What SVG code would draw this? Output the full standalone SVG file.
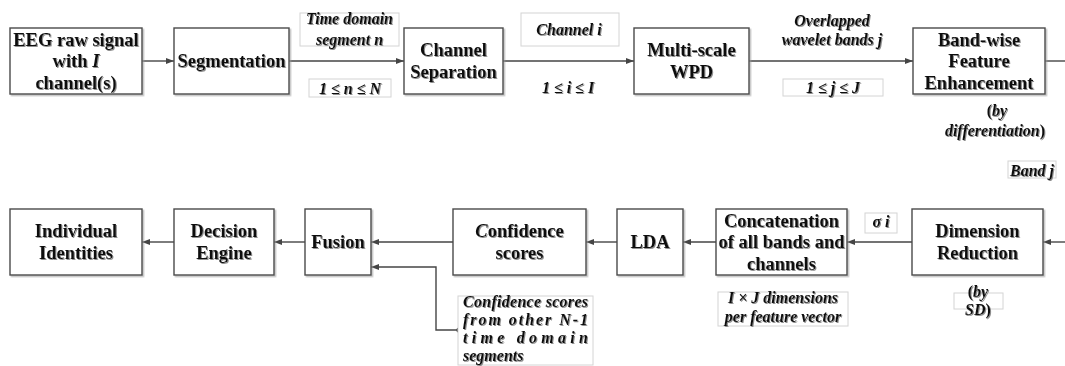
<svg xmlns="http://www.w3.org/2000/svg" width="1065" height="366" viewBox="0 0 1065 366">
  <defs>
    <filter id="txtShadow" x="-10%" y="-20%" width="120%" height="140%">
      <feDropShadow dx="1" dy="1" stdDeviation="0.6" flood-color="#7a7a7a" flood-opacity="0.85"/>
    </filter>
    <filter id="boxShadow" x="-5%" y="-5%" width="110%" height="115%">
      <feDropShadow dx="1.5" dy="1.5" stdDeviation="0.7" flood-color="#999" flood-opacity="0.6"/>
    </filter>
    <marker id="arrow" viewBox="0 0 8 6" refX="8" refY="3" markerWidth="8" markerHeight="6" markerUnits="userSpaceOnUse" orient="auto">
      <path d="M0,0 L8,3 L0,6 Z" fill="#454545"/>
    </marker>
  </defs>
  <style>
    .box { fill: #fff; stroke: #4a4a4a; stroke-width: 1.4; filter: url(#boxShadow); }
    .lbl { fill: #fff; stroke: #d4d4d4; stroke-width: 1; }
    .node { font-family: "Liberation Serif", "Times New Roman", serif; font-weight: bold; font-size: 18.5px; fill: #111; text-anchor: middle; filter: url(#txtShadow); }
    .note { font-family: "Liberation Serif", "Times New Roman", serif; font-weight: bold; font-style: italic; font-size: 16px; fill: #111; text-anchor: middle; filter: url(#txtShadow); }
    .up { font-style: normal; }
    .it { font-style: italic; }
    .wire { fill: none; stroke: #454545; stroke-width: 1.4; }
    .arr { marker-end: url(#arrow); }
  </style>
  <rect width="1065" height="366" fill="#fff"/>

  <!-- connectors -->
  <g id="connectors">
    <line class="wire arr" x1="142" y1="61" x2="174" y2="61"/>
    <line class="wire arr" x1="289" y1="61" x2="404" y2="61"/>
    <line class="wire arr" x1="503" y1="61" x2="634" y2="61"/>
    <line class="wire arr" x1="749" y1="61" x2="913" y2="61"/>
    <line class="wire" x1="1045" y1="61" x2="1065" y2="61"/>
    <line class="wire arr" x1="1065" y1="242" x2="1043" y2="242"/>
    <line class="wire arr" x1="912" y1="242" x2="847" y2="242"/>
    <line class="wire arr" x1="716" y1="242" x2="683" y2="242"/>
    <line class="wire arr" x1="617" y1="242" x2="586" y2="242"/>
    <line class="wire arr" x1="453" y1="242" x2="371" y2="242"/>
    <line class="wire arr" x1="305" y1="242" x2="274" y2="242"/>
    <line class="wire arr" x1="174" y1="242" x2="142" y2="242"/>
    <polyline class="wire arr" points="459,330 436,330 436,267 371,267"/>
    <circle cx="459" cy="330" r="2.6" fill="#454545"/>
  </g>

  <!-- edge labels -->
  <g id="labels">
    <rect class="lbl" x="300" y="13" width="99" height="33"/>
    <text class="note" x="349.5" y="24">Time domain</text>
    <text class="note" x="349.5" y="45">segment n</text>

    <rect class="lbl" x="309" y="79" width="82" height="18"/>
    <text class="note" x="350" y="93.5">1 ≤ n ≤ N</text>

    <rect class="lbl" x="521" y="13" width="98" height="33"/>
    <text class="note" x="569" y="35">Channel i</text>

    <text class="note" x="568" y="92.5">1 ≤ i ≤ I</text>

    <text class="note" x="832" y="25.5">Overlapped</text>
    <text class="note" x="832" y="45">wavelet bands j</text>

    <rect class="lbl" x="783" y="79" width="100" height="17"/>
    <text class="note" x="833" y="93">1 ≤ j ≤ J</text>

    <text class="note" x="997" y="115.5"><tspan class="up">(</tspan>by</text>
    <text class="note" x="995" y="135.5">differentiation<tspan class="up">)</tspan></text>

    <rect class="lbl" x="1008" y="161" width="48" height="17"/>
    <text class="note" x="1032" y="175.5">Band j</text>

    <rect class="lbl" x="865" y="213" width="32" height="20"/>
    <text class="note" x="881" y="227">σ i</text>

    <rect class="lbl" x="718" y="292" width="130" height="34"/>
    <text class="note" x="783" y="303">I × J dimensions</text>
    <text class="note" x="783" y="322">per feature vector</text>

    <rect class="lbl" x="954" y="293" width="49" height="16"/>
    <text class="note" x="978" y="297"><tspan class="up">(</tspan>by</text>
    <text class="note" x="978" y="315">SD<tspan class="up">)</tspan></text>

    <rect class="lbl" x="458" y="296" width="135" height="69"/>
    <text class="note" x="463" y="307" text-anchor="start" style="text-anchor:start" textLength="125" lengthAdjust="spacing">Confidence scores</text>
    <text class="note" x="463" y="325" style="text-anchor:start" textLength="125" lengthAdjust="spacing">from other N-1</text>
    <text class="note" x="463" y="343" style="text-anchor:start" textLength="125" lengthAdjust="spacing">time domain</text>
    <text class="note" x="463" y="361" style="text-anchor:start">segments</text>
  </g>

  <!-- top row -->
  <g id="eeg-raw">
    <rect class="box" x="10" y="28" width="132" height="66"/>
    <text class="node" x="76" y="45.5">EEG raw signal</text>
    <text class="node" x="76" y="67">with <tspan class="it">I</tspan></text>
    <text class="node" x="76" y="88.5">channel(s)</text>
  </g>
  <g id="segmentation">
    <rect class="box" x="174" y="28" width="115" height="66"/>
    <text class="node" x="231.5" y="67">Segmentation</text>
  </g>
  <g id="channel-separation">
    <rect class="box" x="404" y="28" width="99" height="66"/>
    <text class="node" x="453.5" y="56">Channel</text>
    <text class="node" x="453.5" y="77.5">Separation</text>
  </g>
  <g id="wpd">
    <rect class="box" x="634" y="28" width="115" height="66"/>
    <text class="node" x="691.5" y="56">Multi-scale</text>
    <text class="node" x="691.5" y="77.5">WPD</text>
  </g>
  <g id="band-enhancement">
    <rect class="box" x="913" y="28" width="132" height="66"/>
    <text class="node" x="979" y="45.5">Band-wise</text>
    <text class="node" x="979" y="67">Feature</text>
    <text class="node" x="979" y="88.5">Enhancement</text>
  </g>

  <!-- bottom row -->
  <g id="dimension-reduction">
    <rect class="box" x="912" y="209" width="131" height="66"/>
    <text class="node" x="977.5" y="237">Dimension</text>
    <text class="node" x="977.5" y="259">Reduction</text>
  </g>
  <g id="concatenation">
    <rect class="box" x="716" y="209" width="131" height="66"/>
    <text class="node" x="781.5" y="226.5">Concatenation</text>
    <text class="node" x="781.5" y="248">of all bands and</text>
    <text class="node" x="781.5" y="269.5">channels</text>
  </g>
  <g id="lda">
    <rect class="box" x="617" y="209" width="66" height="66"/>
    <text class="node" x="650" y="248">LDA</text>
  </g>
  <g id="confidence">
    <rect class="box" x="453" y="209" width="133" height="66"/>
    <text class="node" x="519.5" y="237"><tspan class="it">C</tspan>onfidence</text>
    <text class="node" x="519.5" y="259">scores</text>
  </g>
  <g id="fusion">
    <rect class="box" x="305" y="209" width="66" height="66"/>
    <text class="node" x="338" y="248">Fusion</text>
  </g>
  <g id="decision-engine">
    <rect class="box" x="174" y="209" width="100" height="66"/>
    <text class="node" x="224" y="237">Decision</text>
    <text class="node" x="224" y="259">Engine</text>
  </g>
  <g id="identities">
    <rect class="box" x="10" y="209" width="132" height="66"/>
    <text class="node" x="76" y="237">Individual</text>
    <text class="node" x="76" y="259">Identities</text>
  </g>
</svg>
